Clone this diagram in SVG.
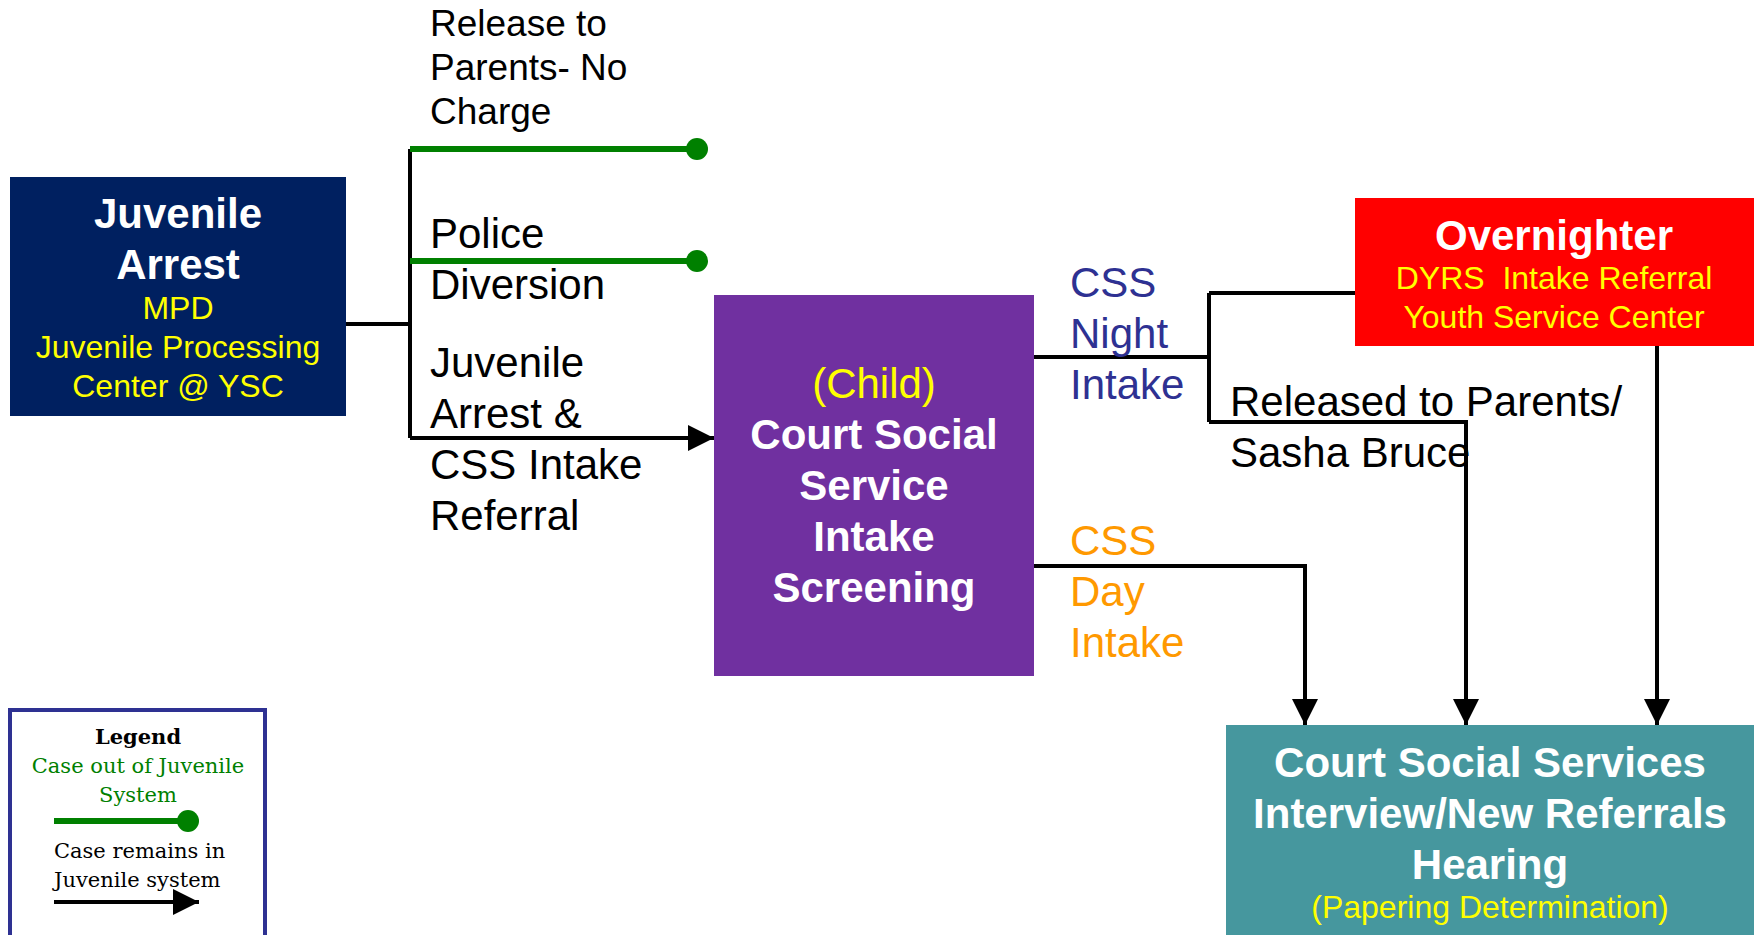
<svg xmlns="http://www.w3.org/2000/svg" width="1754" height="935" viewBox="0 0 1754 935">
<style>
.sans{font-family:"Liberation Sans",Arial,sans-serif}
.b{font-weight:bold}
.c{text-anchor:middle}
.w{fill:#FFFFFF}
.y{fill:#FFFF00}
.k{fill:#000000}
.bl{fill:#2E3192}
.or{fill:#FF9900}
.f42{font-size:42px}
.f37{font-size:37px}
.f32{font-size:32px}
.conn{fill:none;stroke:#000000;stroke-width:4}
.out{fill:none;stroke:#008000;stroke-width:6}
.dot{fill:#008000}
.leg{font-family:"DejaVu Serif","Liberation Serif",serif;font-size:21px}
</style>
<defs>
<marker id="arr" markerUnits="userSpaceOnUse" markerWidth="26" markerHeight="26" viewBox="0 0 10 10" refX="10" refY="5" orient="auto">
<path d="M0,0 L10,5 L0,10 z" fill="#000000"/>
</marker>
</defs>
<rect width="1754" height="935" fill="#FFFFFF"/>

<g id="connectors">
<path class="conn" d="M346,324 H410"/>
<path class="conn" d="M410,149 V438"/>
<path class="conn" d="M410,438 H714" marker-end="url(#arr)"/>
<path class="out" d="M410,149 H697"/>
<circle class="dot" cx="697" cy="149" r="11"/>
<path class="out" d="M410,261 H697"/>
<circle class="dot" cx="697" cy="261" r="11"/>
<path class="conn" d="M1034,357 H1209"/>
<path class="conn" d="M1209,293 V422"/>
<path class="conn" d="M1209,293 H1355"/>
<path class="conn" d="M1209,422 H1466 V725" marker-end="url(#arr)"/>
<path class="conn" d="M1034,566 H1305 V725" marker-end="url(#arr)"/>
<path class="conn" d="M1657,346 V725" marker-end="url(#arr)"/>
</g>

<g id="label-release" class="sans f37 k">
<text x="430" y="36">Release to</text>
<text x="430" y="80">Parents- No</text>
<text x="430" y="124">Charge</text>
</g>
<g id="label-police" class="sans f42 k">
<text x="430" y="248">Police</text>
<text x="430" y="299">Diversion</text>
</g>
<g id="label-referral" class="sans f42 k">
<text x="430" y="377">Juvenile</text>
<text x="430" y="428">Arrest &amp;</text>
<text x="430" y="479">CSS Intake</text>
<text x="430" y="530">Referral</text>
</g>
<g id="label-night" class="sans f42 bl">
<text x="1070" y="297">CSS</text>
<text x="1070" y="348">Night</text>
<text x="1070" y="399">Intake</text>
</g>
<g id="label-day" class="sans f42 or">
<text x="1070" y="555">CSS</text>
<text x="1070" y="606">Day</text>
<text x="1070" y="657">Intake</text>
</g>
<g id="label-released" class="sans f42 k">
<text x="1230" y="416">Released to Parents/</text>
<text x="1230" y="467">Sasha Bruce</text>
</g>

<g id="node-arrest">
<rect x="10" y="177" width="336" height="239" fill="#002060"/>
<text class="sans b f42 w c" x="178" y="228">Juvenile</text>
<text class="sans b f42 w c" x="178" y="279">Arrest</text>
<text class="sans f32 y c" x="178" y="319">MPD</text>
<text class="sans f32 y c" x="178" y="358">Juvenile Processing</text>
<text class="sans f32 y c" x="178" y="397">Center @ YSC</text>
</g>

<g id="node-intake">
<rect x="714" y="295" width="320" height="381" fill="#7030A0"/>
<text class="sans f42 y c" x="874" y="398">(Child)</text>
<text class="sans b f42 w c" x="874" y="449">Court Social</text>
<text class="sans b f42 w c" x="874" y="500">Service</text>
<text class="sans b f42 w c" x="874" y="551">Intake</text>
<text class="sans b f42 w c" x="874" y="602">Screening</text>
</g>

<g id="node-overnighter">
<rect x="1355" y="198" width="399" height="148" fill="#FF0000"/>
<text class="sans b f42 w c" x="1554" y="250">Overnighter</text>
<text class="sans f32 y c" x="1554" y="289" xml:space="preserve">DYRS  Intake Referral</text>
<text class="sans f32 y c" x="1554" y="328">Youth Service Center</text>
</g>

<g id="node-hearing">
<rect x="1226" y="725" width="528" height="210" fill="#46979E"/>
<text class="sans b f42 w c" x="1490" y="777">Court Social Services</text>
<text class="sans b f42 w c" x="1490" y="828">Interview/New Referrals</text>
<text class="sans b f42 w c" x="1490" y="879">Hearing</text>
<text class="sans f32 y c" x="1490" y="918">(Papering Determination)</text>
</g>

<g id="legend">
<rect x="10" y="710" width="255" height="240" fill="#FFFFFF" stroke="#2E3192" stroke-width="4"/>
<text class="leg c" x="138" y="744" font-weight="bold" fill="#000000">Legend</text>
<text class="leg c" x="138" y="773" fill="#008000">Case out of Juvenile</text>
<text class="leg c" x="138" y="802" fill="#008000">System</text>
<path class="out" d="M54,821 H188"/>
<circle class="dot" cx="188" cy="821" r="11"/>
<text class="leg" x="54" y="858" fill="#000000">Case remains in</text>
<text class="leg" x="54" y="887" fill="#000000">Juvenile system</text>
<path class="conn" d="M54,902 H199" marker-end="url(#arr)"/>
</g>
</svg>
